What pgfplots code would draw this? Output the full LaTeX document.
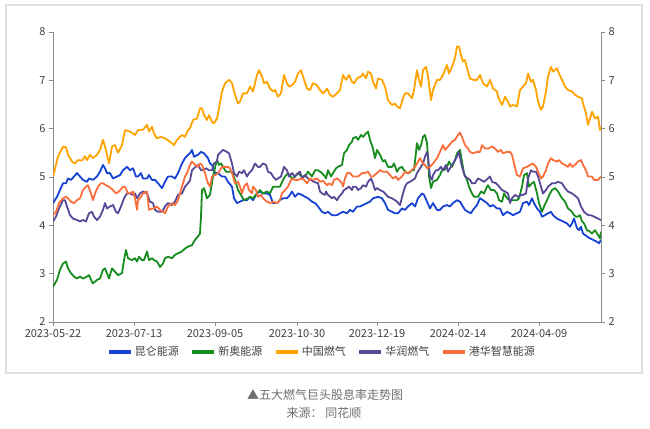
\documentclass[border=0pt]{standalone}
\usepackage{fontspec}
\setmainfont{Noto Sans CJK SC}
\usepackage{pgfplots}
\pgfplotsset{compat=1.18}

\definecolor{cKL}{RGB}{22,66,212}
\definecolor{cXA}{RGB}{22,140,30}
\definecolor{cZG}{RGB}{255,163,0}
\definecolor{cHR}{RGB}{88,72,150}
\definecolor{cGH}{RGB}{250,110,60}
\definecolor{axisgray}{RGB}{140,140,140}
\definecolor{labelgray}{RGB}{64,64,64}
\definecolor{capgray}{RGB}{110,110,110}
\definecolor{framegray}{RGB}{222,222,222}

\pgfplotsset{
  basestyle/.style={
    scale only axis, width=548pt, height=290pt,
    at={(53pt,106pt)}, anchor=south west,
    xmin=0, xmax=548, ymin=2, ymax=8,
    ytick={2,3,4,5,6,7,8},
    tick align=outside, major tick length=4pt,
    axis line style={axisgray, line width=0.9pt},
    every tick/.style={axisgray, line width=0.9pt},
    tick label style={font=\fontsize{11}{13}\selectfont, text=labelgray},
    /pgf/number format/assume math mode=true,
  },
}

\begin{document}
\begin{tikzpicture}
\path[use as bounding box] (0,0) rectangle (650pt,428pt);
\draw[framegray, line width=1.2pt] (6pt,55pt) rectangle (642pt,423pt);

\begin{axis}[basestyle,
  axis x line*=bottom, axis y line*=left,
  xtick={0,81,162,244,324,405,486},
  xticklabels={2023-05-22,2023-07-13,2023-09-05,2023-10-30,2023-12-19,2024-02-14,2024-04-09},
  legend columns=5,
  legend style={at={(0.49,-0.103)}, anchor=center, draw=none, fill=none,
    font=\fontsize{11}{13}\selectfont, text=labelgray,
    /tikz/every even column/.append style={column sep=9pt}},
  legend image code/.code={\draw[line width=4.5pt] (0pt,0pt) -- (22pt,0pt);},
  every axis plot/.append style={line width=1.8pt, line join=round},
]
% 昆仑能源
\addplot[cKL] table {
0 4.46
4 4.59
7 4.73
10 4.87
13 4.87
15 4.97
18 4.94
21 5.01
24 5.08
27 5.01
30 4.94
34 4.90
36 4.97
40 4.94
44 5.01
47 5.11
50 5.25
52 5.18
54 5.08
57 5.08
60 4.97
64 5.01
67 5.04
70 5.14
74 5.21
77 5.14
80 5.18
83 5.01
85 5.01
88 5.08
90 4.97
94 4.97
96 5.04
99 4.94
102 4.94
105 4.87
109 4.77
112 4.90
115 5.01
119 5.01
122 4.97
125 5.08
129 5.28
132 5.39
135 5.46
137 5.49
139 5.56
141 5.42
145 5.46
148 5.52
151 5.49
155 5.39
157 5.28
159 5.25
162 5.08
165 5.08
169 5.01
172 5.01
175 4.90
179 4.80
181 4.56
184 4.46
187 4.49
190 4.52
194 4.52
197 4.59
200 4.52
204 4.66
207 4.70
210 4.66
214 4.66
217 4.63
220 4.46
224 4.46
227 4.52
230 4.56
234 4.56
237 4.63
239 4.70
242 4.59
245 4.66
249 4.63
252 4.59
255 4.56
259 4.49
262 4.46
265 4.39
269 4.28
272 4.25
275 4.28
279 4.21
284 4.21
287 4.25
290 4.28
294 4.25
297 4.32
300 4.28
304 4.39
307 4.39
310 4.42
314 4.46
317 4.49
320 4.56
325 4.59
329 4.56
332 4.46
335 4.32
339 4.28
342 4.25
345 4.25
349 4.35
352 4.32
355 4.39
359 4.46
362 4.39
365 4.56
369 4.66
371 4.63
374 4.49
377 4.35
380 4.46
384 4.32
387 4.32
390 4.39
394 4.42
397 4.39
400 4.46
404 4.52
407 4.49
409 4.42
412 4.32
415 4.28
418 4.25
420 4.32
424 4.42
427 4.56
430 4.52
434 4.46
437 4.39
440 4.42
444 4.35
447 4.35
450 4.21
454 4.28
457 4.25
460 4.21
464 4.25
467 4.28
470 4.46
474 4.49
476 4.42
479 4.56
481 4.46
484 4.35
487 4.28
489 4.18
492 4.21
495 4.25
498 4.28
500 4.21
504 4.14
507 4.11
510 4.08
514 4.04
517 3.97
519 4.04
521 4.14
524 3.94
526 3.90
528 3.97
530 3.83
534 3.77
537 3.73
540 3.70
544 3.66
546 3.63
548 3.70
};
\addlegendentry{昆仑能源}
% 新奥能源
\addplot[cXA] table {
0 2.73
4 2.87
7 3.08
10 3.21
13 3.25
15 3.11
18 3.01
21 2.94
24 2.90
27 2.94
30 2.90
34 2.94
36 2.97
39 2.83
40 2.80
44 2.87
47 2.90
50 3.08
52 3.11
54 3.01
56 2.90
59 3.11
62 3.04
65 2.97
69 3.01
71 3.28
73 3.49
75 3.32
79 3.28
82 3.32
84 3.25
86 3.35
89 3.28
91 3.28
94 3.46
96 3.28
99 3.32
101 3.28
104 3.25
107 3.14
110 3.21
112 3.32
115 3.35
119 3.32
122 3.39
125 3.42
129 3.46
132 3.52
135 3.56
139 3.59
142 3.70
145 3.77
147 3.83
148 4.18
149 4.73
151 4.77
154 4.56
157 4.63
160 5.01
163 5.28
164 5.35
166 5.25
168 5.28
170 5.21
173 5.11
175 5.11
179 5.11
182 4.94
185 4.73
189 4.59
191 4.52
195 4.56
197 4.59
200 4.56
204 4.66
207 4.73
210 4.66
214 4.70
217 4.66
220 4.80
224 4.80
227 4.80
230 4.94
232 5.01
235 5.08
239 4.97
242 5.01
245 5.08
249 5.01
252 5.01
255 5.11
259 5.01
262 5.14
265 5.14
269 5.08
272 5.01
273 4.97
275 5.14
278 5.01
280 5.08
283 5.18
285 5.21
289 5.25
291 5.49
294 5.56
296 5.66
299 5.73
300 5.80
303 5.83
305 5.77
308 5.87
310 5.83
313 5.90
315 5.94
317 5.77
320 5.59
322 5.39
324 5.56
327 5.46
330 5.32
332 5.35
335 5.21
339 5.21
341 5.28
344 5.11
346 5.18
349 5.21
351 5.14
354 5.08
356 5.08
359 5.14
361 5.14
364 5.70
366 5.56
368 5.66
370 5.83
372 5.87
374 5.70
375 5.42
376 5.01
378 4.77
380 4.90
384 4.94
387 5.04
389 5.14
391 5.14
394 5.21
396 5.32
399 5.21
402 5.35
404 5.49
407 5.56
409 5.32
411 5.08
414 4.94
416 4.80
419 4.66
421 4.59
425 4.59
428 4.70
431 4.66
434 4.80
435 4.83
438 4.73
441 4.73
444 4.66
446 4.52
449 4.49
451 4.66
454 4.56
457 4.52
460 4.52
464 4.52
466 4.56
469 4.80
471 5.04
474 5.08
476 4.80
479 4.87
481 4.90
484 4.66
486 4.46
489 4.28
491 4.39
494 4.52
497 4.66
499 4.73
502 4.77
505 4.70
509 4.56
512 4.49
515 4.35
519 4.28
521 4.21
523 4.18
525 4.18
527 4.21
529 4.08
531 4.04
534 3.90
537 3.87
539 3.83
542 3.90
545 3.80
547 3.73
548 3.87
};
\addlegendentry{新奥能源}
% 中国燃气
\addplot[cZG] table {
0 5.01
5 5.42
10 5.63
13 5.61
15 5.46
19 5.32
22 5.28
25 5.35
29 5.34
32 5.43
34 5.35
37 5.46
40 5.39
44 5.46
47 5.56
50 5.77
52 5.63
54 5.46
56 5.28
59 5.63
62 5.66
65 5.50
69 5.66
72 5.97
77 5.94
82 5.87
85 5.97
90 5.98
94 6.08
96 5.94
99 6.04
101 5.90
104 5.80
108 5.83
112 5.80
117 5.73
121 5.66
124 5.77
129 5.87
132 5.83
135 5.97
137 6.01
140 6.18
144 6.21
147 6.42
149 6.42
151 6.28
154 6.18
156 6.28
159 6.14
161 6.11
164 6.21
166 6.42
169 6.77
172 6.94
176 7.01
179 6.94
182 6.70
185 6.52
187 6.56
190 6.73
194 6.73
197 6.87
200 6.77
204 7.11
206 7.21
209 7.08
211 6.94
214 6.97
217 6.83
220 6.77
222 6.80
225 6.66
228 6.73
231 7.11
234 6.94
236 6.87
239 6.90
242 6.97
245 7.14
248 7.21
250 7.08
254 6.83
257 6.80
260 6.94
264 6.90
267 6.80
270 6.73
272 6.77
274 6.83
277 6.70
280 6.66
284 6.73
287 6.80
290 7.11
293 7.01
296 7.11
299 6.97
301 6.94
304 7.04
308 7.08
310 7.14
313 7.04
315 7.18
318 7.14
320 6.97
323 6.83
325 7.04
329 7.01
332 6.87
335 6.59
339 6.49
342 6.52
344 6.46
347 6.42
350 6.63
352 6.73
355 6.73
359 6.63
361 6.80
364 7.21
366 7.01
368 6.87
370 7.21
373 7.28
375 7.08
378 6.59
380 6.80
384 7.01
387 7.01
390 7.11
394 7.32
396 7.14
399 7.28
402 7.46
404 7.70
406 7.70
408 7.52
410 7.39
412 7.42
415 7.18
417 7.04
420 7.01
424 7.01
427 7.11
430 6.94
434 6.87
437 7.01
440 6.83
444 6.77
445 6.66
449 6.49
452 6.66
455 6.56
457 6.46
460 6.49
464 6.46
467 6.80
470 6.87
473 6.94
475 7.14
478 6.97
480 7.01
483 6.80
485 6.56
488 6.39
490 6.46
493 6.77
495 7.08
498 7.28
500 7.18
504 7.25
506 7.14
509 7.01
512 6.87
515 6.80
519 6.77
522 6.70
525 6.66
529 6.63
530 6.52
533 6.32
535 6.08
537 6.21
539 6.35
542 6.21
545 6.25
547 5.97
548 6.04
};
\addlegendentry{中国燃气}
% 华润燃气
\addplot[cHR] table {
0 4.08
3 4.18
6 4.35
10 4.52
12 4.52
14 4.39
17 4.21
20 4.14
24 4.11
27 4.08
30 4.11
33 4.08
36 4.25
39 4.28
41 4.18
44 4.11
47 4.18
50 4.32
52 4.46
54 4.35
57 4.39
60 4.42
63 4.28
65 4.25
68 4.39
71 4.56
74 4.66
77 4.66
80 4.63
82 4.66
84 4.56
87 4.66
90 4.70
94 4.66
97 4.49
100 4.46
102 4.32
105 4.28
109 4.28
112 4.39
115 4.46
119 4.42
122 4.49
125 4.63
129 4.66
132 4.80
135 4.87
137 4.93
139 5.14
141 5.18
145 5.25
148 5.14
150 5.14
153 5.18
156 5.14
159 5.14
161 5.28
164 5.32
165 5.46
168 5.52
170 5.56
174 5.52
176 5.49
179 5.28
181 5.08
184 5.01
186 5.11
189 5.08
191 5.14
194 5.01
196 5.08
199 5.14
202 5.28
205 5.21
207 5.21
210 5.28
213 5.25
215 5.11
218 5.08
220 5.01
223 4.94
225 4.97
228 5.01
231 5.21
234 5.14
236 5.01
239 5.08
242 5.01
245 5.08
247 5.11
249 4.97
252 5.04
255 4.97
258 4.94
261 4.90
265 4.87
267 4.70
269 4.66
272 4.63
273 4.70
275 4.63
279 4.56
281 4.59
284 4.52
286 4.59
289 4.66
291 4.73
294 4.77
296 4.80
299 4.73
300 4.80
303 4.80
305 4.73
308 4.77
310 4.83
313 4.80
315 4.90
318 4.97
320 4.87
322 4.73
324 4.77
327 4.73
330 4.70
332 4.66
335 4.59
339 4.56
342 4.52
344 4.49
347 4.42
350 4.66
352 4.80
354 4.87
357 4.90
360 4.94
362 4.97
364 5.08
367 5.18
370 5.28
372 5.42
374 5.52
375 5.42
377 5.01
379 4.94
380 5.04
383 5.14
385 5.14
388 5.21
390 5.14
393 5.25
395 5.11
399 5.25
402 5.35
404 5.42
406 5.52
408 5.30
410 5.14
412 5.01
415 4.97
417 4.94
419 4.87
422 4.87
425 4.97
428 4.94
431 4.90
435 4.97
437 5.01
439 4.90
443 4.87
445 4.83
449 4.73
452 4.70
455 4.66
457 4.46
459 4.56
462 4.63
465 4.59
468 4.63
470 4.63
473 4.66
475 4.97
478 5.14
480 5.11
483 5.11
485 5.01
488 4.80
490 4.66
493 4.73
495 4.80
499 4.87
502 4.87
505 4.90
509 4.87
512 4.77
515 4.70
519 4.66
521 4.63
525 4.56
528 4.39
531 4.28
535 4.21
538 4.21
541 4.18
545 4.14
548 4.11
};
\addlegendentry{华润燃气}
% 港华智慧能源
\addplot[cGH] table {
0 4.21
3 4.28
6 4.46
10 4.56
13 4.59
15 4.56
18 4.49
21 4.46
24 4.52
27 4.56
30 4.73
33 4.80
35 4.83
38 4.66
40 4.52
42 4.66
45 4.80
48 4.87
50 4.87
53 4.83
56 4.80
60 4.73
63 4.66
66 4.70
70 4.80
72 4.80
75 4.66
77 4.66
80 4.70
82 4.56
84 4.32
85 4.52
88 4.59
90 4.66
94 4.70
96 4.32
99 4.35
101 4.35
104 4.39
107 4.32
110 4.28
112 4.25
115 4.39
119 4.46
122 4.42
125 4.52
129 4.80
132 5.01
134 5.08
137 5.25
139 5.32
142 5.25
145 5.21
147 5.28
149 5.25
152 5.08
155 4.87
157 4.80
159 5.01
162 5.04
165 5.08
167 5.14
169 5.21
172 5.21
175 5.21
177 5.18
179 5.08
182 4.87
185 4.90
187 4.80
189 4.66
191 4.80
194 4.87
196 4.73
199 4.66
200 4.80
203 4.73
205 4.59
208 4.63
210 4.56
214 4.49
217 4.46
220 4.49
224 4.46
227 4.52
229 4.66
232 4.73
235 4.80
237 4.90
239 4.97
242 4.94
245 4.94
249 4.97
251 4.94
254 4.87
257 4.97
260 4.94
264 4.97
267 4.90
270 4.92
274 4.83
276 4.87
279 4.83
281 4.94
284 4.97
286 4.94
289 4.87
290 4.80
292 4.97
294 5.08
297 5.08
300 5.01
302 5.01
305 5.01
309 5.08
312 5.08
315 5.11
318 5.01
320 5.01
324 5.08
327 5.14
330 5.11
334 5.11
337 5.04
340 4.97
343 5.01
345 4.94
349 5.01
352 5.11
355 5.08
359 5.14
362 5.21
364 5.28
367 5.39
370 5.28
372 5.25
374 5.18
377 5.21
380 5.28
384 5.39
387 5.52
390 5.66
392 5.56
395 5.63
399 5.73
402 5.77
405 5.87
407 5.92
409 5.83
412 5.66
415 5.59
417 5.52
420 5.49
424 5.52
427 5.52
429 5.66
432 5.59
435 5.59
439 5.63
442 5.59
445 5.52
448 5.56
450 5.49
454 5.52
457 5.52
459 5.46
461 5.28
464 5.04
467 5.01
470 5.18
474 5.21
477 5.25
480 5.28
483 5.21
485 5.11
488 4.97
490 5.01
493 5.14
495 5.28
498 5.39
500 5.35
504 5.32
506 5.35
509 5.28
512 5.25
515 5.21
517 5.28
519 5.21
522 5.25
525 5.32
528 5.35
530 5.25
533 5.14
535 5.01
539 5.01
541 4.94
545 4.94
548 5.01
};
\addlegendentry{港华智慧能源}
\end{axis}

\begin{axis}[basestyle,
  axis x line=none, axis y line*=right,
]
\addplot[draw=none] coordinates {(0,2)};
\end{axis}

\node[font=\fontsize{12}{14}\selectfont, text=capgray] at (325pt,33pt) {▲五大燃气巨头股息率走势图};
\node[font=\fontsize{12}{14}\selectfont, text=capgray] at (324pt,15pt) {来源： 同花顺};
\end{tikzpicture}
\end{document}
